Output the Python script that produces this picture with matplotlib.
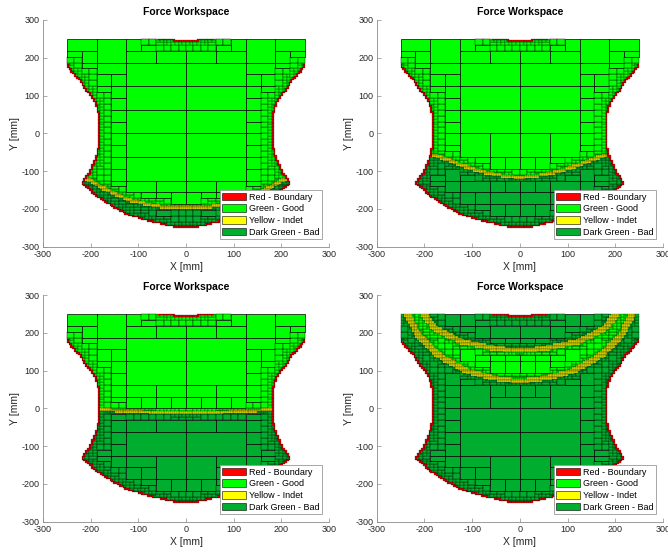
import numpy as np
import matplotlib
matplotlib.use('Agg')
import matplotlib.pyplot as plt
from matplotlib.path import Path
from matplotlib.collections import PolyCollection
from matplotlib.patches import Patch

plt.rcParams['font.family'] = ['Liberation Sans', 'DejaVu Sans']
plt.rcParams['axes.unicode_minus'] = False

# контур рабочей области, левая половина (сверху от центра -> вниз к центру), мм
ws_x = [0, -20, -40, -55, -250, -250, -222, -205, -191, -183, -180, -180, -184, -190, -201, -217,
        -187, -150, -117, -75, -48, -20, 0]
ws_y = [244, 245, 248, 250, 250, 180, 140, 109, 83, 55, 30, -14, -45, -70, -102, -131,
        -166, -195, -217, -232, -240, -247, -250]

# границы good/bad (левая половина, до x = 0)
c1_x = [-210, -170, -135, -117, -80, -47, 0]
c1_y = [-118, -148, -168, -177, -188, -195, -197]
c2_x = [-180, -140, -98, -50, 0]
c2_y = [-57, -76, -95, -110, -117]
c3_x = [-180, -120, -60, 0]
c3_y = [-4, -8, -11, -12]
c4_low_x = [-236, -213, -171, -108, -52, 0]
c4_low_y = [250, 194, 141, 97, 79, 72]
c4_up_x = [-202, -178, -122, -52, 0]
c4_up_y = [250, 212, 176, 158, 153]
bands = [1.5, 1.5, 1.5, 3.5]

colors = ['#FF0000', '#00FF00', '#FFFF00', '#00AD2E']
labels = ['Red - Boundary', 'Green - Good', 'Yellow - Indet', 'Dark Green - Bad']
ticks = [-300, -200, -100, 0, 100, 200, 300]


def full_curve(hx, hy):
    # зеркалим левую половину
    x = list(hx) + [-v for v in hx[::-1][1:]]
    y = list(hy) + list(hy[::-1][1:])
    return x, y


wx = list(ws_x) + [-v for v in ws_x[::-1][1:-1]]
wy = list(ws_y) + list(ws_y[::-1][1:-1])
ws_path = Path(np.column_stack([wx, wy]))


def above_path(hx, hy):
    x, y = full_curve(hx, hy)
    px = [-300] + x + [300, 300, -300]
    py = [y[0]] + y + [y[-1], 300, 300]
    return Path(np.column_stack([px, py]))


lx, ly = full_curve(c4_low_x, c4_low_y)
ux, uy = full_curve(c4_up_x, c4_up_y)
p4x = [lx[0]] + lx + [lx[-1], ux[-1]] + ux[::-1] + [ux[0]]
p4y = [300] + ly + [300, 300] + uy[::-1] + [300]
good_paths = [above_path(c1_x, c1_y), above_path(c2_x, c2_y), above_path(c3_x, c3_y),
              Path(np.column_stack([p4x, p4y]))]


def sample(x0, y0, w, h, m, clip=False, n=9):
    a, b = x0 - m + 1e-3, x0 + w + m - 1e-3
    c, d = y0 - m + 1e-3, y0 + h + m - 1e-3
    if clip:
        a, b = max(a, -249.99), min(b, 249.99)
        c, d = max(c, -249.99), min(d, 249.99)
    X, Y = np.meshgrid(np.linspace(a, b, n), np.linspace(c, d, n))
    return np.column_stack([X.ravel(), Y.ravel()])


def halves(x0, y0, w, h):
    if w > h * 1.01:
        return [(x0, y0, w / 2, h), (x0 + w / 2, y0, w / 2, h)]
    return [(x0, y0, w, h / 2), (x0, y0 + h / 2, w, h / 2)]


def refine(cell, gpath, band, out):
    x0, y0, w, h = cell
    pin = ws_path.contains_points(sample(x0, y0, w, h, 0))
    if not pin.any():
        return
    small = w < 8 and h < 8
    tiny = w < 4 and h < 4
    if not pin.all():
        if tiny:
            out.append((cell, 0))
        else:
            for c in halves(*cell):
                refine(c, gpath, band, out)
        return
    if not small:
        near = ws_path.contains_points(sample(x0, y0, w, h, 0.35 * max(w, h), clip=True))
        if not near.all():
            for c in halves(*cell):
                refine(c, gpath, band, out)
            return
    m = band + (0 if tiny else 0.15 * max(w, h))
    g = gpath.contains_points(sample(x0, y0, w, h, m))
    if g.all():
        out.append((cell, 1))
    elif not g.any():
        out.append((cell, 3))
    elif tiny:
        out.append((cell, 2))
    else:
        for c in halves(*cell):
            refine(c, gpath, band, out)


fig = plt.figure(figsize=(6.68, 5.54), dpi=100)
pos = [[0.0641, 0.5547, 0.4287, 0.4092], [0.5639, 0.5547, 0.4287, 0.4092],
       [0.0641, 0.0583, 0.4287, 0.4092], [0.5639, 0.0583, 0.4287, 0.4092]]

for k in range(4):
    ax = fig.add_axes(pos[k])
    cells = []
    for i in range(4):
        for j in range(8):
            refine((-250 + 125 * i, -250 + 62.5 * j, 125, 62.5), good_paths[k], bands[k], cells)
    verts = [[(x0, y0), (x0 + w, y0), (x0 + w, y0 + h), (x0, y0 + h)] for (x0, y0, w, h), _ in cells]
    fc = [colors[s] for _, s in cells]
    lw = [0.5 if w >= 16 else (0.3 if w >= 8 else (0.2 if w >= 4 else 0.15))
          for (x0, y0, w, h), _ in cells]
    pc = PolyCollection(verts, facecolors=fc, edgecolors='k', linewidths=lw)
    ax.add_collection(pc)

    ax.set_xlim(-300, 300)
    ax.set_ylim(-300, 300)
    ax.set_xticks(ticks)
    ax.set_yticks(ticks)
    for s in ['top', 'right']:
        ax.spines[s].set_visible(False)
    for s in ['left', 'bottom']:
        ax.spines[s].set_color('#8c8c8c')
        ax.spines[s].set_linewidth(0.6)
    ax.tick_params(direction='in', length=3, width=0.5, color='#8c8c8c',
                   labelsize=6.5, labelcolor='#262626', pad=2.5)
    ax.set_title('Force Workspace', fontsize=7.5, fontweight='bold', pad=3.5)
    ax.set_xlabel('X [mm]', fontsize=7.5, color='#262626', labelpad=2)
    ax.set_ylabel('Y [mm]', fontsize=7.5, color='#262626', labelpad=1)
    handles = [Patch(facecolor=c, edgecolor='k', linewidth=0.4, label=l) for c, l in zip(colors, labels)]
    leg = ax.legend(handles=handles, loc='lower right', fontsize=6.5, handlelength=2.6,
                    handleheight=0.9, borderpad=0.3, labelspacing=0.3, handletextpad=0.3,
                    borderaxespad=0.8, fancybox=False, framealpha=1)
    leg.get_frame().set_edgecolor('#999999')
    leg.get_frame().set_linewidth(0.6)

fig.savefig('out.png', dpi=100)
